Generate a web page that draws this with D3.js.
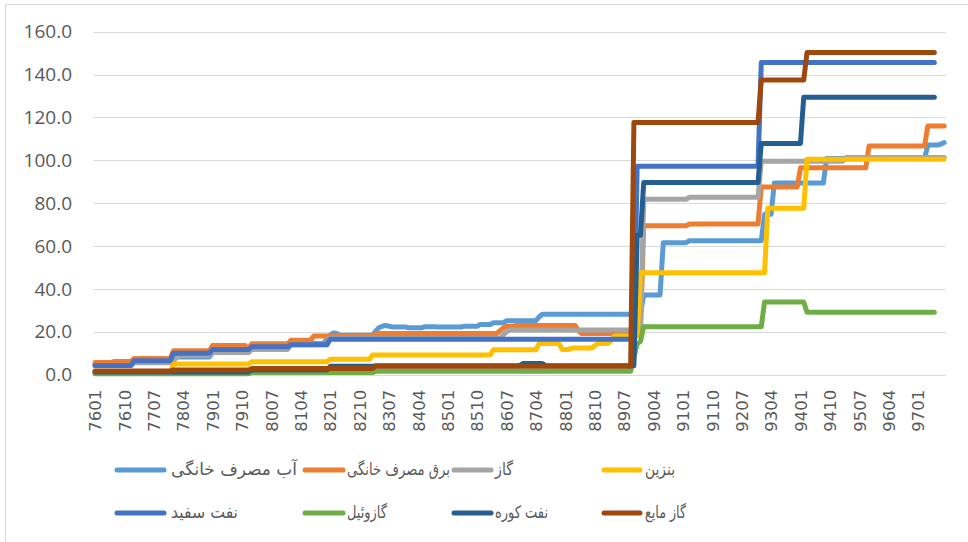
<!DOCTYPE html>
<html><head><meta charset="utf-8">
<script src="https://cdn.jsdelivr.net/npm/d3@7"></script>
<style>
html,body{margin:0;padding:0;background:#fff;}
svg{display:block;}
</style></head>
<body>
<svg id="chart" width="968" height="542"></svg>
<script>
// ---- DATA ----
const years = d3.range(76, 98);
const monthNums = d3.range(1, 13);
const categories = years.flatMap(y => monthNums.map(m => String(y) + String(m).padStart(2, "0"))).slice(0, 261);

const tickLabels = ["7601","7610","7707","7804","7901","7910","8007","8104","8201","8210","8307","8404","8501","8510","8607","8704","8801","8810","8907","9004","9101","9110","9207","9304","9401","9410","9507","9604","9701"];

const yTicks = [0, 20, 40, 60, 80, 100, 120, 140, 160];

const seriesNames = ["آب مصرف خانگی","برق مصرف خانگی","گاز","بنزین","نفت سفید","گازوئیل","نفت کوره","گاز مایع"];
const seriesColors = ["#5B9BD5","#ED7D31","#A5A5A5","#FFC000","#4472C4","#70AD47","#255E91","#9E480E"];

// step data as [value, number of consecutive months]
const abKhanegi = [[4.8,12],[6.2,12],[8.2,12],[10.5,12],[12.2,12],[14.6,11],[16.5,1],[18.5,1],[19.5,1],[19.2,1],[18.4,11],[20.5,1],[22,1],[22.6,1],[23,1],[22.6,1],[22.3,5],[21.9,5],[22.4,4],[22.2,8],[22.6,5],[23.4,4],[24.2,4],[25.2,10],[27,1],[28.2,31],[37.2,6],[61.6,8],[62.5,23],[74.8,3],[89.4,16],[100.8,31],[107.1,4],[107.6,1],[108.3,1]];
const barqKhanegi = [[5.7,6],[6.2,6],[7.6,12],[11.2,12],[13.6,11],[12.2,1],[14.4,12],[16.1,7],[18,19],[19.2,38],[20.5,1],[21.8,1],[22.6,3],[23,19],[20.5,1],[19.2,19],[69.5,14],[70.3,22],[87.6,12],[96.5,21],[106.7,18],[116,6]];
const gaz = [[4.3,12],[5.6,12],[6.5,1],[8,1],[9,10],[10.3,12],[11.8,12],[14,12],[17,53],[18.5,1],[20,1],[20.8,41],[81.8,14],[82.8,22],[99.6,26],[101.3,31]];
const benzin = [[1.2,24],[5,24],[6,24],[7.2,13],[9.2,37],[11.6,14],[14.6,7],[11.8,3],[12.4,7],[13.5,1],[14.5,4],[16,1],[18,8],[47.6,39],[77.6,12],[100.5,43]];
const naftSefid = [[4.3,12],[6.5,12],[10,12],[11.7,12],[13,12],[14,12],[16.5,94],[97.2,38],[145.6,54]];
const gazoil = [[0.5,48],[1,38],[1.6,79],[8,1],[14.5,1],[15.5,1],[22.4,37],[33.9,13],[29.1,40]];
const naftKure = [[1.3,48],[2.2,24],[3.9,14],[4.2,45],[5.2,7],[4.2,28],[65,2],[89.6,36],[107.9,13],[129.4,41]];
const gazMaye = [[1.7,24],[2.2,24],[2.9,38],[4,79],[117.7,39],[137.5,14],[150.3,40]];

const seriesData = [abKhanegi, barqKhanegi, gaz, benzin, naftSefid, gazoil, naftKure, gazMaye];

// ---- DRAW ----
const expand = rle => rle.flatMap(([v, n]) => Array(n).fill(v));

const svg = d3.select("#chart");
const plot = {left: 93.4, right: 945.8, top: 31.7, bottom: 374.7};

// chart border
svg.append("rect").attr("x", 5.5).attr("y", 4.5).attr("width", 975).attr("height", 545)
  .attr("fill", "#fff").attr("stroke", "#d9d9d9").attr("stroke-width", 1);

const x = d3.scalePoint().domain(categories).range([plot.left, plot.right]).padding(0.5);
const y = d3.scaleLinear().domain([0, 160]).range([plot.bottom, plot.top]);

// gridlines
svg.append("g").selectAll("line").data(yTicks).join("line")
  .attr("x1", plot.left).attr("x2", plot.right)
  .attr("y1", d => Math.round(y(d)) + 0.5).attr("y2", d => Math.round(y(d)) + 0.5)
  .attr("stroke", "#d9d9d9").attr("stroke-width", 1);

// y axis labels
const yAxis = d3.axisLeft(y).tickValues(yTicks).tickFormat(d3.format(".1f")).tickSize(0).tickPadding(0);
const gy = svg.append("g").attr("transform", `translate(72,0)`).call(yAxis);
gy.select(".domain").remove();
gy.selectAll("text").attr("font-family", "'Open Sans', sans-serif").attr("font-size", 19).attr("fill", "#595959");

// x axis labels
const xAxis = d3.axisBottom(x).tickValues(tickLabels).tickSize(0).tickPadding(0);
const gx = svg.append("g").attr("transform", `translate(0,${plot.bottom})`).call(xAxis);
gx.select(".domain").remove();
gx.selectAll("text")
  .attr("font-family", "'DejaVu Sans', sans-serif").attr("font-size", 16.5).attr("fill", "#595959")
  .attr("transform", "rotate(-90)")
  .attr("text-anchor", "end").attr("dy", "0.35em").attr("x", -15).attr("y", 0);

// lines
const line = d3.line().x((d, i) => x(categories[i])).y(d => y(d));
svg.append("g").selectAll("path").data(seriesData).join("path")
  .attr("d", d => line(expand(d)))
  .attr("fill", "none")
  .attr("stroke", (d, i) => seriesColors[i])
  .attr("stroke-width", 5)
  .attr("stroke-linejoin", "round")
  .attr("stroke-linecap", "round");

// legend
const legendPos = [
  {lx1: 117, lx2: 164, ly: 470, tx: 171, tw: 126},
  {lx1: 305, lx2: 343, ly: 470, tx: 347, tw: 103},
  {lx1: 454, lx2: 491, ly: 470, tx: 495, tw: 18},
  {lx1: 604, lx2: 640, ly: 470, tx: 645, tw: 30},
  {lx1: 117, lx2: 164, ly: 513, tx: 171, tw: 67},
  {lx1: 305, lx2: 343, ly: 513, tx: 347, tw: 40},
  {lx1: 454, lx2: 491, ly: 513, tx: 495, tw: 53},
  {lx1: 604, lx2: 640, ly: 513, tx: 645, tw: 41}
];
const lg = svg.append("g").selectAll("g").data(seriesNames).join("g");
lg.append("line")
  .attr("x1", (d, i) => legendPos[i].lx1).attr("x2", (d, i) => legendPos[i].lx2)
  .attr("y1", (d, i) => legendPos[i].ly).attr("y2", (d, i) => legendPos[i].ly)
  .attr("stroke", (d, i) => seriesColors[i]).attr("stroke-width", 5).attr("stroke-linecap", "round");
lg.append("text")
  .attr("x", (d, i) => legendPos[i].tx).attr("y", (d, i) => legendPos[i].ly + 5)
  .attr("font-family", "'DejaVu Sans', sans-serif").attr("font-size", 17).attr("fill", "#595959")
  .attr("text-anchor", "start")
  .attr("textLength", (d, i) => legendPos[i].tw)
  .attr("lengthAdjust", "spacingAndGlyphs")
  .text(d => d);
</script>
</body></html>
